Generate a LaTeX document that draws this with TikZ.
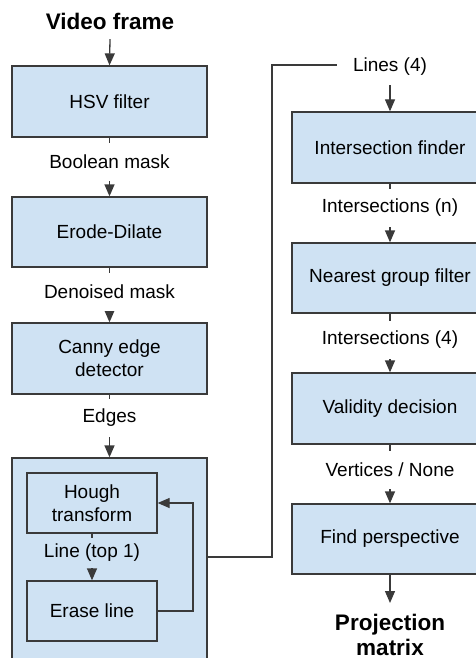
\documentclass[tikz,border=0pt]{standalone}
\usepackage{fontspec}
\setmainfont{Liberation Sans}
\usetikzlibrary{arrows.meta}
\definecolor{boxblue}{HTML}{CFE2F3}
\definecolor{linegray}{HTML}{3A3A3A}
\tikzset{
  procbox/.style={draw=linegray, line width=1.3pt, fill=boxblue, minimum width=195pt, minimum height=71pt, inner sep=0pt, align=center, font=\fontsize{19}{23}\selectfont},
  innerbox/.style={draw=linegray, line width=1.3pt, fill=boxblue, minimum width=130pt, minimum height=60pt, inner sep=0pt, align=center, font=\fontsize{19}{23}\selectfont},
  lbl/.style={fill=white, inner xsep=3pt, inner ysep=0pt, minimum height=38pt, font=\fontsize{19}{23}\selectfont},
  ttl/.style={inner sep=0pt, minimum height=36pt, font=\bfseries\fontsize{22.5}{25}\selectfont},
  conn/.style={draw=linegray, line width=1.3pt},
  arr/.style={conn, -{Triangle[length=12pt,width=10pt]}}
}
\begin{document}
\begin{tikzpicture}[x=1pt, y=-1pt]
\useasboundingbox (0,0) rectangle (476,658);
\clip (0,0) rectangle (476,658);
% left column
\node[ttl] (title) at (110,21) {Video frame};
\node[procbox] (hsv) at (109.5,101.5) {HSV filter};
\node[procbox, minimum height=70pt] (erode) at (109.5,232) {Erode-Dilate};
\node[procbox] (canny) at (109.5,358.5) {Canny edge\\detector};
\node[procbox, minimum height=242pt] (big) at (109.5,579) {};
\node[innerbox] (hough) at (92,503) {Hough\\transform};
\node[innerbox] (erase) at (92,611) {Erase line};
% right column
\node[ttl, font=\fontsize{19}{23}\selectfont, inner xsep=16pt] (lines) at (390,67) {Lines (4)};
\node[procbox, minimum width=196pt] (inter) at (390,147.5) {Intersection finder};
\node[procbox, minimum width=196pt, minimum height=70pt] (near) at (390,278) {Nearest group filter};
\node[procbox, minimum width=196pt] (valid) at (390,408.5) {Validity decision};
\node[procbox, minimum width=196pt, minimum height=70pt] (findp) at (390,539) {Find perspective};
\coordinate (projtop) at (390,603);
\node[anchor=north, inner xsep=0pt, inner ysep=11pt, align=center, font=\bfseries\fontsize{22.5}{25}\selectfont] (proj) at (projtop) {Projection\\matrix};
% connectors left
\draw[arr] (title.south) -- (hsv.north);
\draw[arr] (hsv.south) -- (erode.north);
\draw[arr] (erode.south) -- (canny.north);
\draw[arr] (canny.south) -- (big.north);
\draw[arr] (hough.south) -- (erase.north);
\coordinate (lp) at (193,0);
\draw[arr] (erase.east) -- (erase.east -| lp) -- (hough.east -| lp) -- (hough.east);
% cross connector
\coordinate (b1) at (272,557);
\coordinate (b2) at (272,65);
\draw[conn] (b1 -| big.east) -- (b1) -- (b2) -- (b2 -| lines.west);
% connectors right
\draw[arr] (lines.south) -- (inter.north);
\draw[arr] (inter.south) -- (near.north);
\draw[arr] (near.south) -- (valid.north);
\draw[arr] (valid.south) -- (findp.north);
\draw[arr] (findp.south) -- (proj.north);
% labels
\node[lbl] (l1) at (109.5,162) {Boolean mask};
\node[lbl] (l2) at (109.5,292) {Denoised mask};
\node[lbl] (l3) at (109.5,418) {Edges};
\node[lbl, fill=boxblue, minimum height=30pt] (l4) at (92,553) {Line (top 1)};
\node[lbl] (r1) at (390,208) {Intersections (n)};
\node[lbl] (r2) at (390,340) {Intersections (4)};
\node[lbl] (r3) at (390,470) {Vertices / None};
\end{tikzpicture}
\end{document}
